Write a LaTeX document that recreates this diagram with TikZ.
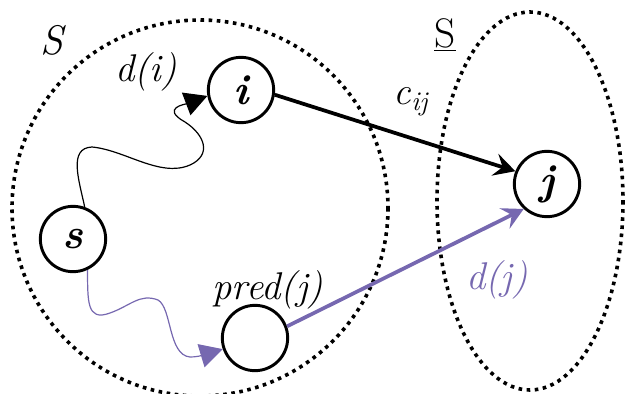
\documentclass[tikz,border=0pt]{standalone}
\usetikzlibrary{arrows.meta}
\definecolor{violeta}{RGB}{118,104,176}
\begin{document}
\begin{tikzpicture}[x=0.75pt,y=-0.75pt]
		\tikzstyle{vertex} = [circle, draw, line width=2.2pt, minimum size=49pt, inner sep=0pt, font=\fontsize{32}{34}\selectfont\bfseries\itshape]
		\tikzstyle{conjunt} = [line width=2.7pt, dash pattern=on 2.7pt off 3.4pt]
		\tikzstyle{nomconj} = [font=\fontsize{31}{34}\selectfont\itshape]
		\tikzstyle{etiq} = [font=\fontsize{29}{32}\selectfont\itshape]
		\tikzstyle{cami} = [line width=0.9pt, -{Triangle[length=17pt,width=18pt]}]
		\useasboundingbox (0,0) rectangle (625,393);

		% The two sets S and its complement
		\draw[conjunt] (200,208) circle [radius=188];
		\draw[conjunt] (530,201) ellipse [x radius=93, y radius=189];
		\node[nomconj] (S) at (52,40) {S};
		\node[nomconj, font=\fontsize{31}{34}\selectfont\upshape] (Sc) at (445,35) {\underline{S}};

		% Vertices
		\node[vertex] (i) at (241,90) {i};
		\node[vertex] (j) at (547,184) {j};
		\node[vertex] (s) at (73,239) {s};
		\node[vertex] (pred) at (255,338) {};

		% Labels
		\node[etiq] (di) at (146,72) {d(i)};
		\node[etiq] (cij) at (411,102) {c\textsubscript{ij}};
		\node[etiq] (lpred) at (268,290) {pred(j)};
		\node[etiq, text=violeta] (dj) at (497,280) {d(j)};

		% Shortest paths from s
		\draw[cami] (s.70) .. controls (79,180) and (68,148) .. (92,147)
			.. controls (125,150) and (160,178) .. (190,165)
			.. controls (212,155) and (205,135) .. (185,122)
			.. controls (160,108) and (186,104) .. (i.190);
		\draw[cami, violeta] (s.-65) .. controls (88,300) and (86,322) .. (110,313)
			.. controls (130,306) and (140,293) .. (158,300)
			.. controls (172,308) and (168,355) .. (190,357)
			.. controls (195,357) and (200,356) .. (pred.199);

		% Edges towards j
		\draw[line width=2.8pt, -{Stealth[length=16pt,width=17pt,inset=6pt]}] (i.-8) -- (j.158);
		\draw[line width=2.8pt, violeta, -{Stealth[length=16pt,width=17pt,inset=6pt]}] (pred.20) -- (j.227);
\end{tikzpicture}
\end{document}
